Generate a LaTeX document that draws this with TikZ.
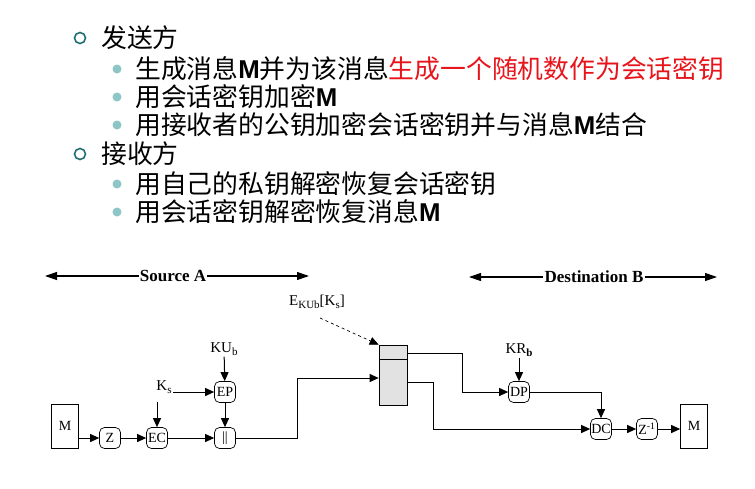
\documentclass[tikz,border=0pt]{standalone}
\usepackage{fontspec}
\setmainfont{Liberation Serif}
\newfontfamily\cjk{Noto Sans CJK SC}
\newfontfamily\arl{Liberation Sans}
\usetikzlibrary{arrows.meta,calc}
\definecolor{ring}{HTML}{1F6E70}
\definecolor{dot}{HTML}{8EC5C6}
\definecolor{hot}{HTML}{E8141B}
\definecolor{boxgray}{HTML}{E2E2E2}
\newcommand\sbx[1]{\raisebox{-0.45ex}{\fontsize{11}{12}\selectfont #1}}
\newcommand\bm{{\arl\bfseries M}}
\begin{document}
\begin{tikzpicture}[x=1pt,y=-1pt,
  cn/.style={anchor=west,inner sep=0pt,font=\cjk\fontsize{25.8}{30}\selectfont},
  ringmark/.style={draw=ring,line width=1.6pt,circle,minimum size=11pt,inner sep=0pt},
  dotmark/.style={fill=dot,circle,minimum size=9pt,inner sep=0pt},
  op/.style={draw,rounded corners=5pt,minimum width=21pt,minimum height=21pt,inner sep=0.5pt,font=\fontsize{14}{14}\selectfont,line width=0.7pt},
  blk/.style={draw,minimum width=27pt,minimum height=44pt,inner sep=0pt,font=\fontsize{14}{14}\selectfont,line width=0.7pt},
  lbl/.style={inner sep=1pt,font=\fontsize{15}{15}\selectfont},
  hdr/.style={inner sep=1pt,font=\bfseries\fontsize{17}{17}\selectfont},
  arr/.style={line width=1pt,-{Triangle[length=9pt,width=8pt]}},
  harr/.style={line width=1.1pt,-{Triangle[length=12pt,width=8pt]}},
  ln/.style={line width=1pt}]
\useasboundingbox (0,0) rectangle (755,488);
% text block
\node[ringmark] (r1) at (80,38) {};
\node[cn] (t1) at (101,38) {发送方};
\node[dotmark] (d1) at (117,69) {};
\node[cn] (t2) at (135,69) {生成消息\bm 并为该消息\textcolor{hot}{生成一个随机数作为会话密钥}};
\node[dotmark] (d2) at (117,97) {};
\node[cn] (t3) at (135,97) {用会话密钥加密\bm};
\node[dotmark] (d3) at (117,125) {};
\node[cn] (t4) at (135,125) {用接收者的公钥加密会话密钥并与消息\bm 结合};
\node[ringmark] (r2) at (80,154) {};
\node[cn] (t5) at (101,154) {接收方};
\node[dotmark] (d5) at (117,184) {};
\node[cn] (t6) at (135,184) {用自己的私钥解密恢复会话密钥};
\node[dotmark] (d6) at (117,212) {};
\node[cn] (t7) at (135,212) {用会话密钥解密恢复消息\bm};
% headers
\node[hdr] (SA) at (173,276) {Source A};
\coordinate (SAl) at (45,276);
\coordinate (SAr) at (309,276);
\draw[harr] (SA.west) -- (SAl);
\draw[harr] (SA.east) -- (SAr);
\node[hdr] (DB) at (594,277) {Destination B};
\coordinate (DBl) at (469,277);
\coordinate (DBr) at (717,277);
\draw[harr] (DB.west) -- (DBl);
\draw[harr] (DB.east) -- (DBr);
% source side
\node[blk] (M1) at (65,426) {M};
\node[op] (Z) at (110,438) {Z};
\node[op] (EC) at (157,438) {EC};
\node[op] (CAT) at (225,438) {||};
\node[op] (EP) at (225,392) {EP};
\node[lbl] (KUb) at (224,349) {KU\sbx{b}};
\node[lbl] (Ks) at (164,387) {K\sbx{s}};
\coordinate (ksd) at (157,402);
\draw[arr] (M1.east |- Z) -- (Z);
\draw[arr] (Z) -- (EC);
\draw[arr] (EC) -- (CAT);
\draw[arr] (EP) -- (CAT);
\draw[arr] (KUb) -- (EP);
\draw[arr] (Ks.east |- EP) -- (EP);
\draw[arr] (ksd) -- (EC);
% box
\node[draw,fill=boxgray,minimum width=28pt,minimum height=60pt,inner sep=0pt,line width=0.7pt] (BOX) at (393,375) {};
\draw[line width=0.9pt] ($(BOX.north west)+(0,15)$) -- ($(BOX.north east)+(0,15)$);
\node[lbl] (EK) at (317,302) {E\sbx{KUb}[K\sbx{s}]};
\coordinate (ekd) at (320,318);
\draw[arr,dashed,line width=0.7pt] (ekd) -- (BOX.north west);
\coordinate (in1) at (297,378);
\draw[arr] (CAT) -- (CAT -| in1) -- (in1) -- (in1 -| BOX.west);
% destination side
\node[op] (DP) at (519,392) {DP};
\node[op] (DC) at (601,429) {DC};
\node[op] (ZI) at (647,429) {Z\textsuperscript{-1}};
\node[blk] (M2) at (694,426) {M};
\node[lbl] (KRb) at (519,350) {KR\sbx{\bfseries b}};
\coordinate (o1) at (462,353);
\coordinate (o2) at (433,382);
\draw[arr] (o1 -| BOX.east) -- (o1) |- (DP);
\draw[arr] (o2 -| BOX.east) -- (o2) |- (DC);
\draw[arr] (KRb) -- (DP);
\draw[arr] (DP) -| (DC);
\draw[arr] (DC) -- (ZI);
\draw[arr] (ZI) -- (ZI -| M2.west);
\end{tikzpicture}
\end{document}
